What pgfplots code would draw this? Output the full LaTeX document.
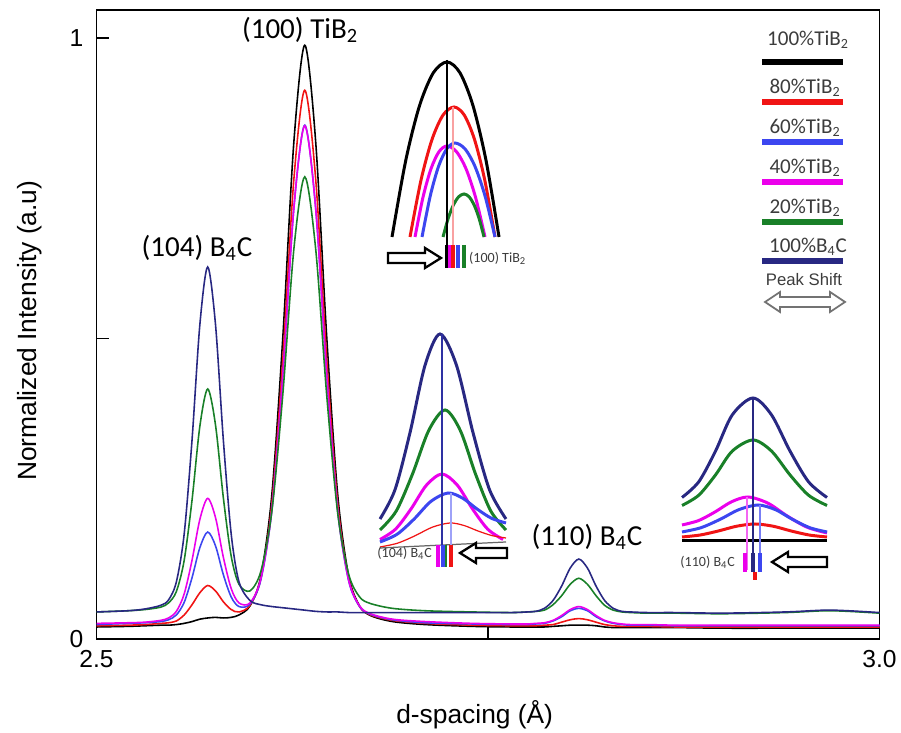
\documentclass[border=0pt]{standalone}
\usepackage{pgfplots}
\usepackage{pgfplotstable}
\pgfplotsset{compat=1.18}
\usepackage{fontspec}
\setmainfont{Liberation Sans}
\newfontfamily\carl{Carlito}

\definecolor{cnavy}{RGB}{40,40,130}
\definecolor{cgreen}{RGB}{25,128,40}
\definecolor{cblue}{RGB}{60,70,240}
\definecolor{cmag}{RGB}{235,0,235}
\definecolor{cred}{RGB}{240,20,20}
\definecolor{ctext}{RGB}{60,60,60}

% normalized intensity vs d-spacing, one column per sample
\pgfplotstableread{
x      black  red    blue   magenta green  navy
2.500  0.020  0.022  0.024  0.026  0.045  0.045
2.520  0.021  0.023  0.026  0.027  0.047  0.047
2.531  0.022  0.024  0.027  0.028  0.049  0.050
2.541  0.023  0.026  0.029  0.031  0.053  0.056
2.546  0.023  0.027  0.032  0.035  0.060  0.065
2.551  0.024  0.030  0.040  0.046  0.079  0.095
2.556  0.026  0.040  0.061  0.075  0.131  0.175
2.561  0.029  0.057  0.102  0.131  0.231  0.331
2.566  0.033  0.077  0.152  0.199  0.354  0.523
2.571  0.035  0.089  0.178  0.234  0.416  0.619
2.576  0.036  0.080  0.155  0.202  0.356  0.523
2.581  0.035  0.062  0.107  0.136  0.235  0.331
2.586  0.036  0.049  0.070  0.084  0.138  0.175
2.591  0.040  0.045  0.054  0.060  0.091  0.095
2.598  0.055  0.056  0.058  0.060  0.080  0.064
2.605  0.105  0.101  0.099  0.101  0.113  0.057
2.612  0.241  0.226  0.215  0.216  0.213  0.054
2.619  0.503  0.467  0.439  0.440  0.408  0.052
2.626  0.826  0.764  0.716  0.716  0.648  0.050
2.633  0.988  0.913  0.855  0.854  0.769  0.048
2.640  0.826  0.764  0.716  0.715  0.648  0.046
2.647  0.503  0.467  0.439  0.439  0.406  0.045
2.654  0.241  0.226  0.214  0.215  0.210  0.045
2.661  0.105  0.101  0.097  0.098  0.108  0.044
2.668  0.055  0.054  0.054  0.055  0.070  0.044
2.675  0.039  0.040  0.041  0.042  0.059  0.044
2.689  0.029  0.031  0.032  0.033  0.051  0.044
2.710  0.024  0.026  0.027  0.029  0.047  0.044
2.740  0.021  0.023  0.025  0.026  0.045  0.044
2.765  0.020  0.022  0.024  0.025  0.044  0.044
2.775  0.020  0.022  0.024  0.025  0.045  0.045
2.7805 0.020  0.022  0.025  0.026  0.046  0.046
2.786  0.020  0.023  0.026  0.027  0.048  0.051
2.7915 0.021  0.024  0.030  0.031  0.057  0.064
2.797  0.022  0.028  0.037  0.039  0.072  0.088
2.8025 0.023  0.032  0.047  0.049  0.091  0.118
2.808  0.023  0.034  0.051  0.054  0.101  0.133
2.8135 0.023  0.032  0.047  0.049  0.091  0.118
2.819  0.022  0.028  0.037  0.039  0.072  0.088
2.8245 0.020  0.024  0.030  0.031  0.056  0.064
2.830  0.019  0.022  0.026  0.027  0.048  0.051
2.8355 0.019  0.021  0.024  0.025  0.045  0.046
2.841  0.019  0.021  0.023  0.024  0.044  0.045
2.852  0.019  0.021  0.023  0.024  0.043  0.044
2.870  0.019  0.020  0.022  0.023  0.043  0.044
2.900  0.018  0.020  0.022  0.023  0.042  0.043
2.940  0.018  0.020  0.022  0.023  0.044  0.045
2.965  0.018  0.020  0.022  0.023  0.047  0.048
2.980  0.018  0.020  0.022  0.023  0.046  0.047
3.000  0.018  0.020  0.022  0.023  0.043  0.044
}\data

\begin{document}
\begin{tikzpicture}
\useasboundingbox (0,0) rectangle (18.02,14.64);

\begin{axis}[
  at={(1.93cm,1.86cm)}, anchor=south west, scale only axis,
  width=15.66cm, height=12.58cm,
  xmin=2.5, xmax=3.0, ymin=0, ymax=1.0466,
  xtick={2.5,2.75,3.0}, xticklabels={2.5,,3.0},
  ytick={0,0.5,1}, yticklabels={0,,1},
  xtick pos=bottom, ytick pos=left, tick align=inside,
  major tick length=7pt,
  axis line style={line width=1pt},
  tick style={line width=0.8pt, black},
  tick label style={font=\fontsize{14}{16}\selectfont},
  xticklabel style={yshift=-3pt},
  yticklabel style={xshift=-4pt},
  xlabel={d-spacing (Å)}, ylabel={Normalized Intensity (a.u)},
  label style={font=\fontsize{15}{18}\selectfont},
  xlabel style={at={(axis description cs:0.483,-0.121)}, anchor=center},
  ylabel style={at={(axis description cs:-0.085,0.49)}, anchor=center},
  every axis plot/.append style={line width=0.9pt, smooth, tension=0.5, mark=none},
]
\addplot[black]  table[x=x, y=black]   {\data};
\addplot[cred]   table[x=x, y=red]     {\data};
\addplot[cblue]  table[x=x, y=blue]    {\data};
\addplot[cmag]   table[x=x, y=magenta] {\data};
\addplot[cgreen] table[x=x, y=green]   {\data};
\addplot[cnavy]  table[x=x, y=navy]    {\data};
\end{axis}

% overlay in pixel units: insets, peak labels, legend
\begin{axis}[
  at={(0,0)}, anchor=south west, scale only axis,
  width=18.02cm, height=14.64cm,
  xmin=0, xmax=901, ymin=0, ymax=732,
  hide axis, clip=false,
  every axis plot/.append style={smooth, tension=0.5, mark=none, line width=1.7pt},
]
% --- inset (100) TiB2
\addplot[black]  coordinates {(392,495) (405.75,571.6) (419.5,626.25) (433.25,659.1) (447,670) (460,659.1) (473,626.25) (486,571.6) (499,495)};
\addplot[cred]   coordinates {(410,495) (421,551.9) (432,592.5) (443,616.9) (454,625) (464.25,616.9) (474.5,592.5) (484.75,551.9) (495,495)};
\addplot[cmag]   coordinates {(415,495) (423,534.8) (431,563.25) (439,580.3) (447,586) (456.5,580.3) (466,563.25) (475.5,534.8) (485,495)};
\addplot[cblue]  coordinates {(422,495) (430.25,536.1) (438.5,565.5) (446.75,583.1) (455,589) (465,583.1) (475,565.5) (485,536.1) (495,495)};
\addplot[cgreen] coordinates {(443,495) (448.25,513.8) (453.5,527.25) (458.75,535.3) (464,538) (469,535.3) (474,527.25) (479,513.8) (484,495)};
\draw[black, line width=0.6pt] (447,672) -- (447,465);
\draw[cred!40, line width=0.6pt] (453,625) -- (453,465);
\draw[black, line width=1.8pt] (447,487) -- (447,464);
\draw[cmag, line width=1.8pt] (450,487) -- (450,464);
\draw[cred, line width=1.8pt] (453,487) -- (453,464);
\draw[cblue, line width=1.8pt] (458,487) -- (458,464);
\draw[cgreen, line width=1.8pt] (464,487) -- (464,464);
\draw[black, line width=1.3pt, fill=white] (388,469) -- (425,469) -- (425,464) -- (441,474) -- (425,484) -- (425,479) -- (388,479) -- cycle;
\node[anchor=west, text=ctext, font=\carl\fontsize{8}{9}\selectfont, inner sep=1pt] at (467,474) {(100) TiB\textsubscript{2}};

% --- inset (104) B4C
\addplot[cnavy]  coordinates {(380,213) (395,242.3) (410,299.35) (425,366.6) (440,398) (456.5,366.6) (473,299.35) (489.5,242.3) (506,213)};
\addplot[cgreen] coordinates {(380,202) (396.25,221) (412.5,258) (428.75,301.6) (445,322) (460.25,301.6) (475.5,258) (490.75,221) (506,202)};
\addplot[cmag]   coordinates {(380,192.5) (395.5,202.8) (411,223.05) (426.5,246.9) (442,258) (457.25,246.9) (472.5,223.05) (487.75,202.8) (503,192.5)};
\addplot[cblue]  coordinates {(380,190) (397,197.7) (414,212.85) (431,230.7) (448,239) (462.5,233.9) (477,223) (491.5,213.7) (506,209)};
\addplot[cred, line width=0.7pt] coordinates {(380,185) (397.5,188.8) (415,196.2) (432.5,204.9) (450,209) (464,206.5) (478,201) (492,196.4) (506,194)};
\addplot[black!60, line width=0.7pt] coordinates {(380,184) (506,190)};
\draw[cnavy!70!cblue, line width=0.7pt] (442,398) -- (442,167);
\draw[cblue!50, line width=0.7pt] (451,239) -- (451,167);
\draw[cmag, line width=2pt] (438,187) -- (438,165);
\draw[cblue, line width=1.8pt] (443,187) -- (443,165);
\draw[cgreen, line width=1.5pt] (446,187) -- (446,165);
\draw[cred, line width=1.8pt] (451,187) -- (451,165);
\draw[black, line width=1.3pt, fill=white] (460,179) -- (476,189) -- (476,184) -- (507,184) -- (507,174) -- (476,174) -- (476,169) -- cycle;
\node[anchor=east, text=ctext, font=\carl\fontsize{8}{9}\selectfont, inner sep=1pt] at (434,179) {(104) B\textsubscript{4}C};

% --- inset (110) B4C
\addplot[cnavy]  coordinates {(682,234.5) (698.75,250.2) (715.5,280.9) (732.25,317.1) (753,334) (771.5,317.1) (790,280.9) (808.5,250.2) (827,234.5)};
\addplot[cgreen] coordinates {(682,226.5) (698.75,236.8) (715.5,257.05) (732.25,280.9) (753,292) (771.5,280.9) (790,257.05) (808.5,236.8) (827,226.5)};
\addplot[cmag]   coordinates {(682,207) (698.5,211.4) (715,220.05) (731.5,230.2) (748,235) (767.75,228.9) (787.5,215.8) (807.25,204.7) (827,199)};
\addplot[cblue]  coordinates {(682,200) (701,204.3) (720,212.6) (739,222.4) (758,227) (775.25,222.4) (792.5,212.6) (809.75,204.3) (827,200)};
\addplot[cred]   coordinates {(682,195) (700.25,197) (718.5,201.05) (736.75,205.8) (755,208) (773,205.8) (791,201.05) (809,197) (827,195)};
\addplot[black]  coordinates {(682,191) (827,191)};
\draw[cnavy, line width=0.8pt] (753,334) -- (753,162);
\draw[cmag!60, line width=0.8pt] (747,235) -- (747,162);
\draw[cblue!70, line width=0.8pt] (760,227) -- (760,162);
\draw[cmag, line width=1.8pt] (745,179) -- (745,160);
\draw[cnavy, line width=1.8pt] (753,179) -- (753,160);
\draw[cblue, line width=1.8pt] (760,179) -- (760,160);
\draw[cred, line width=1.8pt] (755,160) -- (755,152);
\draw[black, line width=1.3pt, fill=white] (772,170) -- (788,180) -- (788,175) -- (827,175) -- (827,165) -- (788,165) -- (788,160) -- cycle;
\node[anchor=east, text=ctext, font=\carl\fontsize{8}{9}\selectfont, inner sep=1pt] at (737,170) {(110) B\textsubscript{4}C};

% --- peak labels
\node[font=\carl\fontsize{16.5}{18}\selectfont] at (197,484) {(104) B\textsubscript{4}C};
\node[font=\carl\fontsize{16.5}{18}\selectfont] at (300,702) {(100) TiB\textsubscript{2}};
\node[font=\carl\fontsize{16.5}{18}\selectfont] at (587,195) {(110) B\textsubscript{4}C};

% --- legend
\draw[black,  line width=3.4pt] (762,670) -- (843,670);
\draw[cred,   line width=3.4pt] (762,630) -- (843,630);
\draw[cblue,  line width=3.4pt] (762,590) -- (843,590);
\draw[cmag,   line width=3.4pt] (762,550) -- (843,550);
\draw[cgreen, line width=3.4pt] (762,510) -- (843,510);
\draw[cnavy,  line width=3.4pt] (762,471) -- (843,471);
\begin{scope}[every node/.style={text=ctext, font=\carl\fontsize{12}{14}\selectfont}]
\node at (808,692) {100\%TiB\textsubscript{2}};
\node at (805,644) {80\%TiB\textsubscript{2}};
\node at (805,604) {60\%TiB\textsubscript{2}};
\node at (805,564) {40\%TiB\textsubscript{2}};
\node at (805,524) {20\%TiB\textsubscript{2}};
\node at (808,485) {100\%B\textsubscript{4}C};
\end{scope}
\node[text=ctext, font=\fontsize{9.5}{11}\selectfont] at (804,452) {Peak Shift};
\draw[black!55, line width=1pt, fill=white] (765,430) -- (780,440) -- (780,435) -- (830,435) -- (830,440) -- (845,430) -- (830,420) -- (830,425) -- (780,425) -- (780,420) -- cycle;
\end{axis}
\end{tikzpicture}
\end{document}
